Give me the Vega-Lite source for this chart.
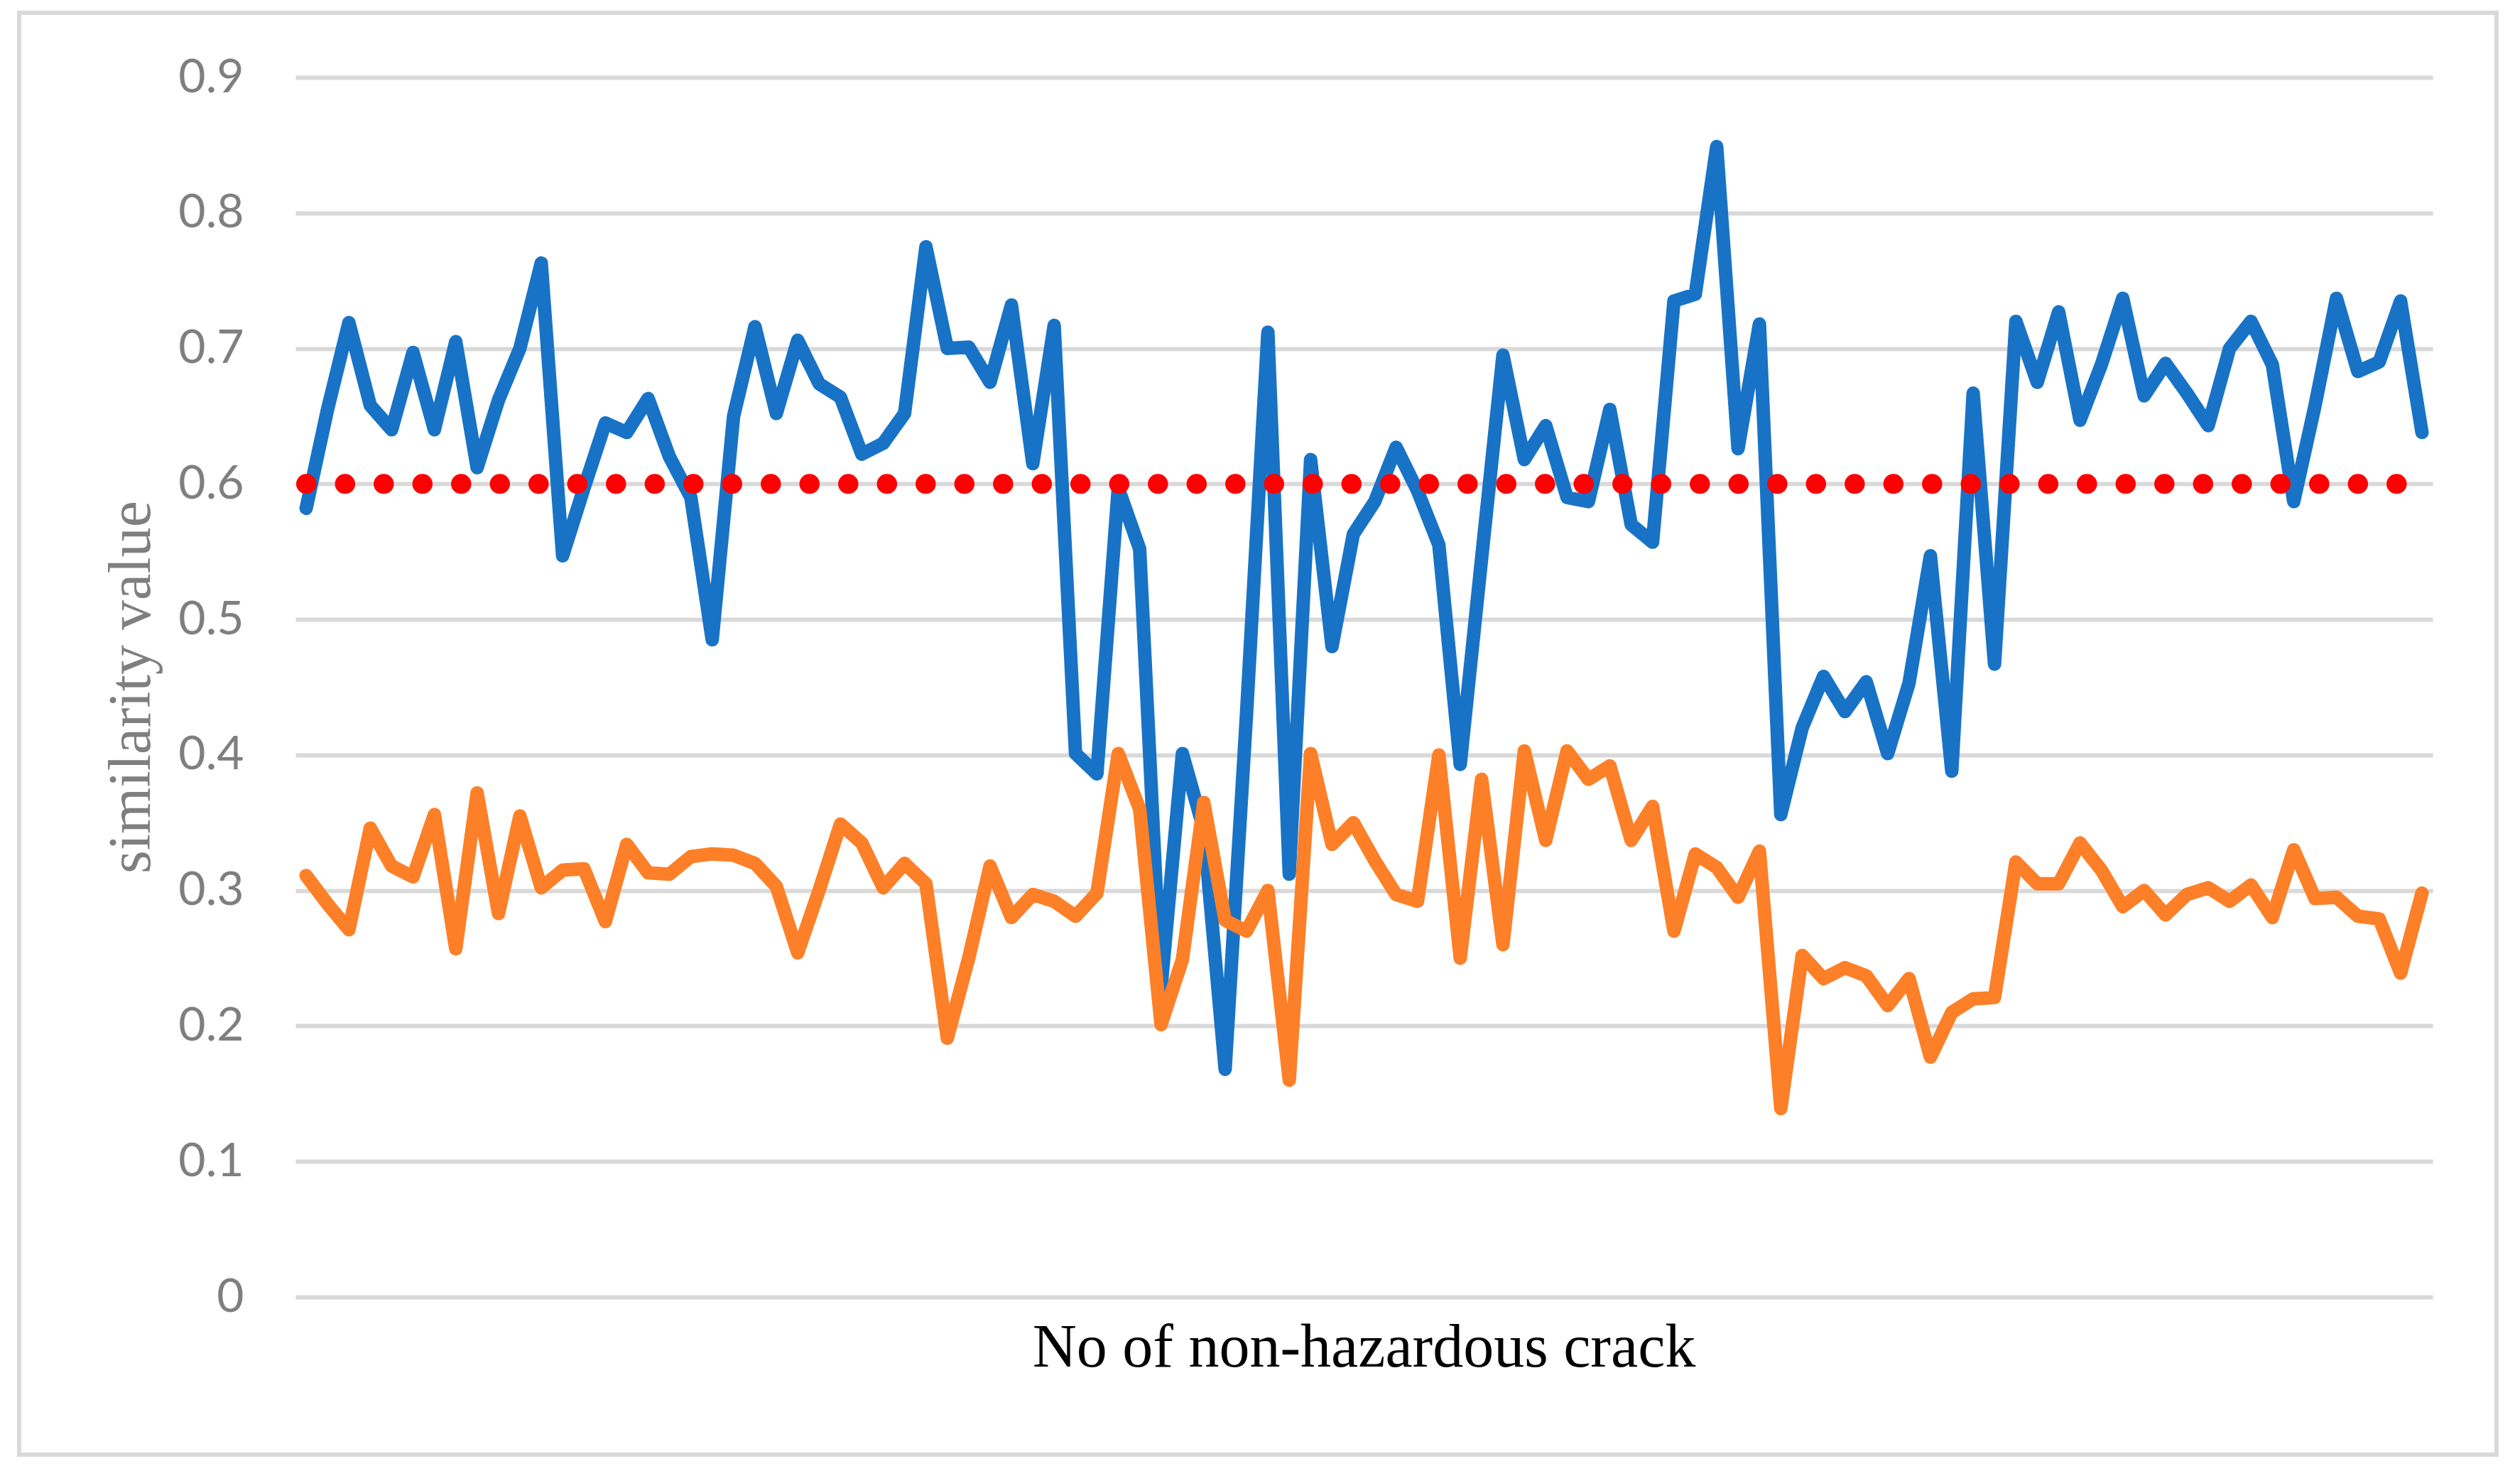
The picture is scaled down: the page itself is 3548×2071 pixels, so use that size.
{
  "$schema": "https://vega.github.io/schema/vega-lite/v6.json",
  "autosize": "none",
  "padding": {"left": 416, "top": 109, "right": 123, "bottom": 245},
  "width": 3009,
  "height": 1717,
  "background": "white",
  "config": {"view": {"stroke": null}},
  "datasets": {
    "scores": [
      {"crack": 1, "Series 1": 0.582, "Series 2": 0.311},
      {"crack": 2, "Series 1": 0.655, "Series 2": 0.29},
      {"crack": 3, "Series 1": 0.719, "Series 2": 0.271},
      {"crack": 4, "Series 1": 0.658, "Series 2": 0.346},
      {"crack": 5, "Series 1": 0.64, "Series 2": 0.318},
      {"crack": 6, "Series 1": 0.697, "Series 2": 0.31},
      {"crack": 7, "Series 1": 0.64, "Series 2": 0.356},
      {"crack": 8, "Series 1": 0.705, "Series 2": 0.257},
      {"crack": 9, "Series 1": 0.612, "Series 2": 0.372},
      {"crack": 10, "Series 1": 0.662, "Series 2": 0.283},
      {"crack": 11, "Series 1": 0.7, "Series 2": 0.355},
      {"crack": 12, "Series 1": 0.763, "Series 2": 0.302},
      {"crack": 13, "Series 1": 0.547, "Series 2": 0.315},
      {"crack": 14, "Series 1": 0.597, "Series 2": 0.316},
      {"crack": 15, "Series 1": 0.645, "Series 2": 0.277},
      {"crack": 16, "Series 1": 0.638, "Series 2": 0.334},
      {"crack": 17, "Series 1": 0.663, "Series 2": 0.313},
      {"crack": 18, "Series 1": 0.62, "Series 2": 0.312},
      {"crack": 19, "Series 1": 0.59, "Series 2": 0.325},
      {"crack": 20, "Series 1": 0.485, "Series 2": 0.327},
      {"crack": 21, "Series 1": 0.65, "Series 2": 0.326},
      {"crack": 22, "Series 1": 0.716, "Series 2": 0.32},
      {"crack": 23, "Series 1": 0.652, "Series 2": 0.303},
      {"crack": 24, "Series 1": 0.706, "Series 2": 0.254},
      {"crack": 25, "Series 1": 0.674, "Series 2": 0.3},
      {"crack": 26, "Series 1": 0.664, "Series 2": 0.349},
      {"crack": 27, "Series 1": 0.622, "Series 2": 0.335},
      {"crack": 28, "Series 1": 0.63, "Series 2": 0.302},
      {"crack": 29, "Series 1": 0.652, "Series 2": 0.32},
      {"crack": 30, "Series 1": 0.775, "Series 2": 0.305},
      {"crack": 31, "Series 1": 0.7, "Series 2": 0.191},
      {"crack": 32, "Series 1": 0.701, "Series 2": 0.25},
      {"crack": 33, "Series 1": 0.675, "Series 2": 0.318},
      {"crack": 34, "Series 1": 0.732, "Series 2": 0.28},
      {"crack": 35, "Series 1": 0.615, "Series 2": 0.297},
      {"crack": 36, "Series 1": 0.717, "Series 2": 0.292},
      {"crack": 37, "Series 1": 0.401, "Series 2": 0.281},
      {"crack": 38, "Series 1": 0.386, "Series 2": 0.298},
      {"crack": 39, "Series 1": 0.597, "Series 2": 0.401},
      {"crack": 40, "Series 1": 0.552, "Series 2": 0.36},
      {"crack": 41, "Series 1": 0.228, "Series 2": 0.201},
      {"crack": 42, "Series 1": 0.401, "Series 2": 0.249},
      {"crack": 43, "Series 1": 0.345, "Series 2": 0.365},
      {"crack": 44, "Series 1": 0.168, "Series 2": 0.278},
      {"crack": 45, "Series 1": 0.43, "Series 2": 0.27},
      {"crack": 46, "Series 1": 0.712, "Series 2": 0.3},
      {"crack": 47, "Series 1": 0.312, "Series 2": 0.16},
      {"crack": 48, "Series 1": 0.618, "Series 2": 0.401},
      {"crack": 49, "Series 1": 0.48, "Series 2": 0.334},
      {"crack": 50, "Series 1": 0.563, "Series 2": 0.35},
      {"crack": 51, "Series 1": 0.587, "Series 2": 0.322},
      {"crack": 52, "Series 1": 0.627, "Series 2": 0.297},
      {"crack": 53, "Series 1": 0.595, "Series 2": 0.292},
      {"crack": 54, "Series 1": 0.555, "Series 2": 0.4},
      {"crack": 55, "Series 1": 0.393, "Series 2": 0.25},
      {"crack": 56, "Series 1": 0.545, "Series 2": 0.382},
      {"crack": 57, "Series 1": 0.695, "Series 2": 0.26},
      {"crack": 58, "Series 1": 0.618, "Series 2": 0.403},
      {"crack": 59, "Series 1": 0.643, "Series 2": 0.337},
      {"crack": 60, "Series 1": 0.59, "Series 2": 0.403},
      {"crack": 61, "Series 1": 0.587, "Series 2": 0.382},
      {"crack": 62, "Series 1": 0.655, "Series 2": 0.392},
      {"crack": 63, "Series 1": 0.57, "Series 2": 0.337},
      {"crack": 64, "Series 1": 0.557, "Series 2": 0.362},
      {"crack": 65, "Series 1": 0.735, "Series 2": 0.27},
      {"crack": 66, "Series 1": 0.74, "Series 2": 0.327},
      {"crack": 67, "Series 1": 0.849, "Series 2": 0.317},
      {"crack": 68, "Series 1": 0.626, "Series 2": 0.295},
      {"crack": 69, "Series 1": 0.718, "Series 2": 0.329},
      {"crack": 70, "Series 1": 0.356, "Series 2": 0.139},
      {"crack": 71, "Series 1": 0.42, "Series 2": 0.252},
      {"crack": 72, "Series 1": 0.458, "Series 2": 0.235},
      {"crack": 73, "Series 1": 0.432, "Series 2": 0.243},
      {"crack": 74, "Series 1": 0.454, "Series 2": 0.237},
      {"crack": 75, "Series 1": 0.401, "Series 2": 0.215},
      {"crack": 76, "Series 1": 0.453, "Series 2": 0.235},
      {"crack": 77, "Series 1": 0.547, "Series 2": 0.177},
      {"crack": 78, "Series 1": 0.388, "Series 2": 0.21},
      {"crack": 79, "Series 1": 0.667, "Series 2": 0.22},
      {"crack": 80, "Series 1": 0.467, "Series 2": 0.221},
      {"crack": 81, "Series 1": 0.72, "Series 2": 0.321},
      {"crack": 82, "Series 1": 0.675, "Series 2": 0.305},
      {"crack": 83, "Series 1": 0.727, "Series 2": 0.305},
      {"crack": 84, "Series 1": 0.647, "Series 2": 0.335},
      {"crack": 85, "Series 1": 0.688, "Series 2": 0.315},
      {"crack": 86, "Series 1": 0.737, "Series 2": 0.288},
      {"crack": 87, "Series 1": 0.665, "Series 2": 0.3},
      {"crack": 88, "Series 1": 0.689, "Series 2": 0.282},
      {"crack": 89, "Series 1": 0.667, "Series 2": 0.297},
      {"crack": 90, "Series 1": 0.643, "Series 2": 0.302},
      {"crack": 91, "Series 1": 0.7, "Series 2": 0.292},
      {"crack": 92, "Series 1": 0.72, "Series 2": 0.304},
      {"crack": 93, "Series 1": 0.688, "Series 2": 0.28},
      {"crack": 94, "Series 1": 0.587, "Series 2": 0.33},
      {"crack": 95, "Series 1": 0.658, "Series 2": 0.294},
      {"crack": 96, "Series 1": 0.737, "Series 2": 0.295},
      {"crack": 97, "Series 1": 0.683, "Series 2": 0.281},
      {"crack": 98, "Series 1": 0.69, "Series 2": 0.279},
      {"crack": 99, "Series 1": 0.735, "Series 2": 0.239},
      {"crack": 100, "Series 1": 0.638, "Series 2": 0.298}
    ],
    "threshold": [
      {"crack": 1, "similarity": 0.6},
      {"crack": 100, "similarity": 0.6}
    ],
    "frame": [
      {"left": -12.43, "right": 103.49, "top": 0.9477, "bottom": -0.1164}
    ]
  },
  "encoding": {
    "x": {
      "field": "crack",
      "type": "quantitative",
      "scale": {"domain": [0.5, 100.5], "nice": false, "zero": false},
      "axis": {
        "title": "No of non-hazardous crack",
        "labels": false,
        "ticks": false,
        "domain": false,
        "grid": false,
        "titleFont": "Liberation Serif",
        "titleFontSize": 86,
        "titleFontWeight": "normal",
        "titleColor": "#000000",
        "titleBaseline": "alphabetic",
        "titleX": 1504,
        "titleY": 97
      }
    },
    "y": {
      "field": "similarity",
      "type": "quantitative",
      "scale": {"domain": [0, 0.9], "nice": false},
      "axis": {
        "title": "similarity value",
        "values": [0, 0.1, 0.2, 0.3, 0.4, 0.5, 0.6, 0.7, 0.8, 0.9],
        "labelExpr": "datum.value == 0 ? '0' : format(datum.value, '.1f')",
        "domain": false,
        "ticks": false,
        "tickSize": 0,
        "labelPadding": 73,
        "labelFont": "Lato",
        "labelFontSize": 66,
        "labelColor": "#7f7f7f",
        "grid": true,
        "gridColor": "#d9d9d9",
        "gridWidth": 6,
        "titleFont": "Liberation Serif",
        "titleFontSize": 84,
        "titleFontWeight": "normal",
        "titleColor": "#7f7f7f",
        "titleBaseline": "alphabetic",
        "titleX": -206,
        "titleY": 858
      }
    }
  },
  "layer": [
    {
      "data": {"name": "frame"},
      "mark": {"type": "rect", "fill": "transparent", "stroke": "#d9d9d9", "strokeWidth": 6, "clip": false},
      "encoding": {
        "x": {"field": "left"},
        "x2": {"field": "right"},
        "y": {"field": "top"},
        "y2": {"field": "bottom"}
      }
    },
    {
      "data": {"name": "scores"},
      "transform": [{"fold": ["Series 1", "Series 2"], "as": ["series", "similarity"]}],
      "mark": {"type": "line", "strokeWidth": 19, "strokeCap": "round", "strokeJoin": "round"},
      "encoding": {
        "color": {
          "field": "series",
          "type": "nominal",
          "scale": {"domain": ["Series 1", "Series 2"], "range": ["#1873c6", "#fd7f27"]},
          "legend": null
        }
      }
    },
    {
      "data": {"name": "threshold"},
      "mark": {"type": "line", "color": "#ff0000", "strokeWidth": 28, "strokeCap": "round", "strokeDash": [0.5, 54]}
    }
  ]
}
